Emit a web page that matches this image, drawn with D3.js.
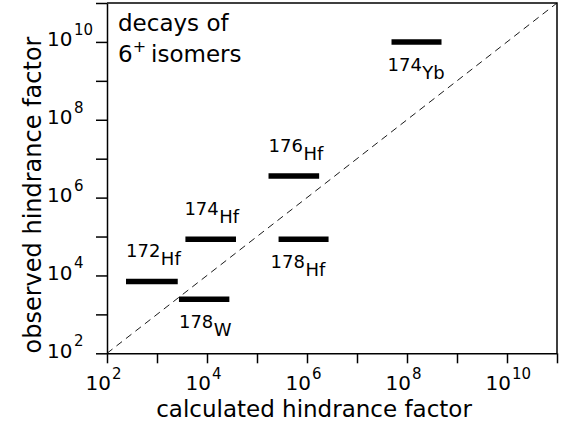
<!DOCTYPE html>
<html>
<head>
<meta charset="utf-8">
<script src="https://cdn.jsdelivr.net/npm/d3@7"></script>
<style>
body { margin: 0; background: #fff; }
text { font-family: "DejaVu Sans", sans-serif; fill: #000; }
</style>
</head>
<body>
<script>
// isomers, with mass number and element shown separately in the labels
var massNumbers = ["172", "178", "174", "176", "178", "174"]
var elements = ["Hf", "W", "Hf", "Hf", "Hf", "Yb"]
// calculated hindrance factor range (low, high) and observed hindrance factor
var calcLow = [2.4e2, 2.75e3, 3.7e3, 1.7e5, 2.7e5, 4.9e7]
var calcHigh = [2.6e3, 2.8e4, 3.8e4, 1.75e6, 2.7e6, 4.9e8]
var observed = [7.0e3, 2.45e3, 8.5e4, 3.6e6, 8.5e4, 1.0e10]
var tickExponents = [2, 3, 4, 5, 6, 7, 8, 9, 10, 11]
var labelledExponents = [2, 4, 6, 8, 10]

var width = 561, height = 425
var margin = {top: 3, right: 4, bottom: 72, left: 107}

var svg = d3.select("body").append("svg")
    .attr("width", width)
    .attr("height", height)

var x = d3.scaleLog().domain([1e2, 1e11]).range([margin.left, width - margin.right])
var y = d3.scaleLog().domain([1e2, 1e11]).range([height - margin.bottom + 0.3, margin.top])

var tickVals = tickExponents.map(function (e) { return Math.pow(10, e) })

// axes: ticks outside, labels drawn by hand as 10 + superscript
var xAxis = d3.axisBottom(x).tickValues(tickVals).tickSize(10).tickSizeOuter(0).tickFormat("")
var yAxis = d3.axisLeft(y).tickValues(tickVals).tickSize(11).tickSizeOuter(0).tickFormat("")

var gx = svg.append("g")
    .attr("transform", "translate(0," + y(1e2) + ")")
    .call(xAxis)
var gy = svg.append("g")
    .attr("transform", "translate(" + x(1e2) + ",0)")
    .call(yAxis)
svg.selectAll(".domain").attr("stroke", "#000").attr("stroke-width", 1.5)
svg.selectAll(".tick line").attr("stroke", "#000").attr("stroke-width", 1.5)

// frame top and right
svg.append("path")
    .attr("d", "M" + x(1e2) + "," + y(1e11) + "H" + x(1e11) + "V" + y(1e2))
    .attr("fill", "none")
    .attr("stroke", "#000")
    .attr("stroke-width", 1.5)

// x tick labels
labelledExponents.forEach(function (e) {
    var px = x(Math.pow(10, e))
    svg.append("text")
        .attr("x", px + 4)
        .attr("y", 390)
        .attr("text-anchor", "end")
        .style("font-size", "20px")
        .text("10")
    svg.append("text")
        .attr("x", px + 5)
        .attr("y", 379)
        .style("font-size", "15px")
        .text(e)
})

// y tick labels
labelledExponents.forEach(function (e) {
    var py = y(Math.pow(10, e))
    svg.append("text")
        .attr("x", 47)
        .attr("y", py + 4.5)
        .style("font-size", "20px")
        .text("10")
    svg.append("text")
        .attr("x", 74)
        .attr("y", py - 7)
        .style("font-size", "15px")
        .text(e)
})

// axis titles
svg.append("text")
    .attr("x", 314)
    .attr("y", 416.5)
    .attr("text-anchor", "middle")
    .style("font-size", "23px")
    .text("calculated hindrance factor")

svg.append("text")
    .attr("transform", "translate(40.5,195) rotate(-90)")
    .attr("text-anchor", "middle")
    .style("font-size", "24px")
    .text("observed hindrance factor")

// diagonal: observed = calculated
svg.append("line")
    .attr("x1", x(1e2)).attr("y1", y(1e2))
    .attr("x2", x(1e11)).attr("y2", y(1e11))
    .attr("stroke", "#000")
    .attr("stroke-width", 0.9)
    .attr("stroke-dasharray", "7,5")

// bars
svg.selectAll("line.bar").data(observed).enter()
    .append("line")
    .attr("class", "bar")
    .attr("x1", function (d, i) { return x(calcLow[i]) })
    .attr("x2", function (d, i) { return x(calcHigh[i]) })
    .attr("y1", function (d) { return y(d) })
    .attr("y2", function (d) { return y(d) })
    .attr("stroke", "#000")
    .attr("stroke-width", 5.5)

// labels: some above their bar, others below
var labelBelow = [false, true, false, false, true, true]
var labelShift = [0, 0, -1, 0, -8, -4]
var labels = svg.selectAll("text.iso").data(observed).enter()
    .append("text")
    .attr("class", "iso")
    .attr("x", function (d, i) { return x(calcLow[i]) + labelShift[i] })
    .attr("y", function (d, i) { return y(d) + (labelBelow[i] ? 29 : -24) })
    .style("font-size", "18px")
labels.append("tspan").text(function (d, i) { return massNumbers[i] })
labels.append("tspan").attr("dx", 0.5).attr("dy", 8).text(function (d, i) { return elements[i] })

// legend text
svg.append("text")
    .attr("x", 118)
    .attr("y", 31)
    .style("font-size", "23px")
    .text("decays of")
var iso = svg.append("text")
    .attr("x", 118)
    .attr("y", 61.5)
    .style("font-size", "23px")
iso.append("tspan").text("6")
iso.append("tspan").attr("dy", -10).style("font-size", "16px").text("+")
iso.append("tspan").attr("dy", 10).attr("dx", 5).text("isomers")
</script>
</body>
</html>
